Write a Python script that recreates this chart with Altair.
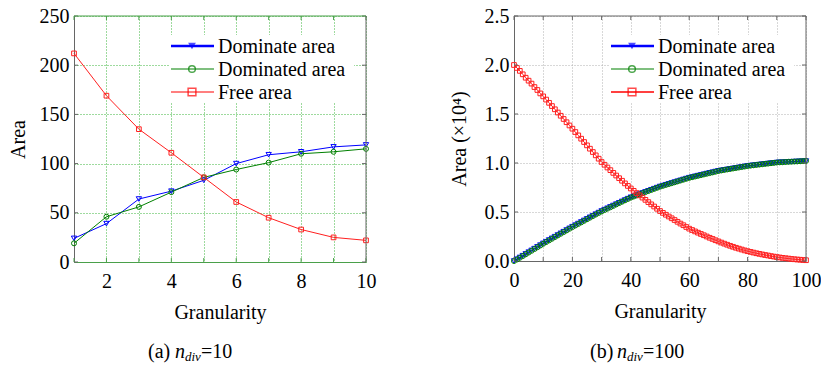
import altair as alt
import pandas as pd

# ---------------- data ----------------
series = ["Dominate area", "Dominated area", "Free area"]

gran_a = list(range(1, 11))
dominate_a = [24, 39, 64, 72, 83, 100, 109, 112, 117, 119]
dominated_a = [19, 46, 56, 71, 86, 94, 101, 110, 112, 115]
free_a = [212, 169, 135, 111, 86, 61, 45, 33, 25, 22]

gran_b = list(range(0, 101))
dominate_b = [
    0.000, 0.018, 0.036, 0.054, 0.072, 0.090, 0.108, 0.126, 0.144, 0.162, 0.180,
    0.197, 0.214, 0.231, 0.248, 0.265, 0.282, 0.299, 0.316, 0.333, 0.350,
    0.366, 0.382, 0.398, 0.414, 0.430, 0.446, 0.462, 0.478, 0.494, 0.510,
    0.524, 0.538, 0.552, 0.566, 0.580, 0.594, 0.608, 0.622, 0.636, 0.650,
    0.661, 0.672, 0.683, 0.694, 0.705, 0.716, 0.727, 0.738, 0.749, 0.760,
    0.769, 0.778, 0.787, 0.796, 0.805, 0.814, 0.823, 0.832, 0.841, 0.850,
    0.857, 0.864, 0.871, 0.878, 0.885, 0.892, 0.899, 0.906, 0.913, 0.920,
    0.925, 0.930, 0.935, 0.940, 0.945, 0.950, 0.955, 0.960, 0.965, 0.970,
    0.974, 0.977, 0.981, 0.984, 0.988, 0.991, 0.995, 0.998, 1.002, 1.005,
    1.007, 1.008, 1.010, 1.011, 1.013, 1.014, 1.016, 1.017, 1.019, 1.020,
]
dominated_b = [
    0.000, 0.015, 0.033, 0.050, 0.068, 0.086, 0.104, 0.122, 0.140, 0.158, 0.176,
    0.193, 0.210, 0.227, 0.244, 0.261, 0.278, 0.295, 0.312, 0.329, 0.346,
    0.362, 0.378, 0.394, 0.410, 0.426, 0.442, 0.458, 0.474, 0.490, 0.506,
    0.520, 0.534, 0.548, 0.562, 0.577, 0.591, 0.605, 0.619, 0.633, 0.647,
    0.658, 0.669, 0.681, 0.692, 0.703, 0.714, 0.725, 0.736, 0.747, 0.758,
    0.767, 0.776, 0.785, 0.794, 0.803, 0.812, 0.821, 0.830, 0.839, 0.848,
    0.855, 0.862, 0.869, 0.876, 0.883, 0.890, 0.897, 0.904, 0.911, 0.918,
    0.924, 0.929, 0.934, 0.939, 0.944, 0.949, 0.954, 0.959, 0.964, 0.969,
    0.973, 0.977, 0.980, 0.984, 0.987, 0.991, 0.994, 0.998, 1.001, 1.005,
    1.007, 1.008, 1.010, 1.012, 1.013, 1.015, 1.016, 1.018, 1.019, 1.021,
]
free_b = [
    2.000, 1.970, 1.940, 1.905, 1.870, 1.840, 1.810, 1.775, 1.745, 1.710, 1.680,
    1.647, 1.614, 1.581, 1.548, 1.515, 1.482, 1.449, 1.416, 1.383, 1.350,
    1.316, 1.282, 1.248, 1.214, 1.180, 1.146, 1.112, 1.078, 1.044, 1.010,
    0.982, 0.954, 0.927, 0.899, 0.872, 0.845, 0.819, 0.792, 0.766, 0.740,
    0.716, 0.693, 0.670, 0.647, 0.624, 0.601, 0.578, 0.556, 0.533, 0.510,
    0.491, 0.472, 0.454, 0.436, 0.418, 0.400, 0.382, 0.365, 0.347, 0.330,
    0.316, 0.302, 0.289, 0.276, 0.263, 0.250, 0.237, 0.225, 0.212, 0.200,
    0.188, 0.177, 0.166, 0.155, 0.145, 0.135, 0.126, 0.117, 0.108, 0.100,
    0.093, 0.086, 0.079, 0.073, 0.067, 0.061, 0.056, 0.050, 0.045, 0.040,
    0.036, 0.032, 0.028, 0.025, 0.021, 0.018, 0.015, 0.013, 0.010, 0.008,
]

xticks_a = list(range(1, 11))
yticks_a = [0, 50, 100, 150, 200, 250]
xticks_b = list(range(0, 101, 10))
yticks_b = [0.0, 0.5, 1.0, 1.5, 2.0, 2.5]

# ---------------- style ----------------
FONT = "Liberation Serif"
FS = 20
COLORS = ["#0000ff", "#008000", "#ff0000"]
SHAPES = ["triangle-down", "circle", "square"]
W_A, H_A = 292, 246
W_B, H_B = 292, 245


def long_df(g, a, b, c):
    return pd.DataFrame({
        "g": g * 3,
        "v": a + b + c,
        "s": [series[0]] * len(g) + [series[1]] * len(g) + [series[2]] * len(g),
        "o": [0] * len(g) + [1] * len(g) + [2] * len(g),
    })


df_a = long_df(gran_a, dominate_a, dominated_a, free_a)
df_b = long_df(gran_b, dominate_b, dominated_b, free_b)

color_scale = alt.Scale(domain=series, range=COLORS)
shape_scale = alt.Scale(domain=series, range=SHAPES)


def panel(df, W, H, xdom, ydom, xticks, yticks, xlabel_every, yfmt, ytitle,
          xcolor, ycolor, gridcolor, line_colors, line_widths, pt_sizes, pt_opacity,
          leg_widths, caption, ytitle_pad):
    xs = alt.Scale(domain=xdom, nice=False, zero=False)
    ys = alt.Scale(domain=ydom, nice=False)
    xaxis = alt.Axis(values=xticks, labelExpr=f"datum.value % {xlabel_every} == 0 ? datum.label : ''",
                     labelOverlap=False, grid=True, gridColor=gridcolor, gridDash=[1, 2], gridWidth=1,
                     tickSize=0, labelPadding=9, domainColor=xcolor, domainWidth=1,
                     title="Granularity", titlePadding=11, labelFlush=False)
    yaxis = alt.Axis(values=yticks, format=yfmt, labelOverlap=False, grid=True, gridColor=gridcolor,
                     gridDash=[1, 2], gridWidth=1, tickSize=0, labelPadding=5,
                     domainColor=ycolor, title=ytitle, titlePadding=ytitle_pad)

    base = alt.Chart(df)
    lines = base.mark_line().encode(
        x=alt.X("g:Q", scale=xs, axis=xaxis),
        y=alt.Y("v:Q", scale=ys, axis=yaxis),
        color=alt.Color("s:N", scale=alt.Scale(domain=series, range=line_colors), legend=None),
        strokeWidth=alt.StrokeWidth("s:N", scale=alt.Scale(domain=series, range=line_widths), legend=None),
        detail="s:N",
        order="o:Q",
    )
    points = base.mark_point(filled=False, strokeWidth=1).encode(
        x=alt.X("g:Q", scale=xs, axis=xaxis),
        y=alt.Y("v:Q", scale=ys, axis=yaxis),
        color=alt.Color("s:N", scale=color_scale, legend=None),
        shape=alt.Shape("s:N", scale=shape_scale, legend=None),
        size=alt.Size("s:N", scale=alt.Scale(domain=series, range=pt_sizes), legend=None),
        opacity=alt.Opacity("s:N", scale=alt.Scale(domain=series, range=pt_opacity), legend=None),
    )

    # inward ticks on all four sides
    xt = pd.DataFrame({"g": xticks})
    yt = pd.DataFrame({"v": yticks})
    tk = []
    tk.append(alt.Chart(xt).mark_rule(color=xcolor, strokeWidth=1).encode(
        x=alt.X("g:Q", scale=xs, axis=xaxis), y=alt.value(H), y2=alt.value(H - 4)))
    tk.append(alt.Chart(xt).mark_rule(color=xcolor, strokeWidth=1).encode(
        x=alt.X("g:Q", scale=xs, axis=xaxis), y=alt.value(0), y2=alt.value(4)))
    tk.append(alt.Chart(yt).mark_rule(color=ycolor, strokeWidth=1).encode(
        y=alt.Y("v:Q", scale=ys, axis=yaxis), x=alt.value(0), x2=alt.value(4)))
    tk.append(alt.Chart(yt).mark_rule(color=ycolor, strokeWidth=1).encode(
        y=alt.Y("v:Q", scale=ys, axis=yaxis), x=alt.value(W), x2=alt.value(W - 4)))
    one = pd.DataFrame({"a": [0]})
    frame = [
        alt.Chart(one).mark_rule(color=xcolor, strokeWidth=1).encode(
            x=alt.value(0), x2=alt.value(W), y=alt.value(0)),
        alt.Chart(one).mark_rule(color=ycolor, strokeWidth=1).encode(
            x=alt.value(W), y=alt.value(0), y2=alt.value(H)),
    ]

    # legend
    leg = [alt.Chart(one).mark_rect(fill="white").encode(
        x=alt.value(95), x2=alt.value(280), y=alt.value(19), y2=alt.value(86))]
    rows_y = [30, 53, 76]
    for i, s in enumerate(series):
        leg.append(alt.Chart(one).mark_rule(color=COLORS[i], strokeWidth=leg_widths[i]).encode(
            x=alt.value(97), x2=alt.value(140), y=alt.value(rows_y[i])))
        leg.append(alt.Chart(one).mark_point(shape=SHAPES[i], color=COLORS[i],
                                             filled=(i == 0), size=60 if i != 1 else 45,
                                             strokeWidth=1.5).encode(
            x=alt.value(118), y=alt.value(rows_y[i])))
        leg.append(alt.Chart(one).mark_text(text=s, align="left", baseline="middle",
                                            font=FONT, fontSize=FS, color="black").encode(
            x=alt.value(144), y=alt.value(rows_y[i] + 1)))

    # caption  "(x) n_div=N"
    cap = []
    cx, tag, num = caption
    cy = 342
    cap.append(alt.Chart(one).mark_text(text=tag, align="left", baseline="alphabetic",
                                        font=FONT, fontSize=FS).encode(
        x=alt.value(cx), y=alt.value(cy)))
    cap.append(alt.Chart(one).mark_text(text="n", align="left", baseline="alphabetic",
                                        font=FONT, fontSize=FS, fontStyle="italic").encode(
        x=alt.value(cx + 27), y=alt.value(cy)))
    cap.append(alt.Chart(one).mark_text(text="div", align="left", baseline="alphabetic",
                                        font=FONT, fontSize=13, fontStyle="italic").encode(
        x=alt.value(cx + 37), y=alt.value(cy + 3)))
    cap.append(alt.Chart(one).mark_text(text="=" + num, align="left", baseline="alphabetic",
                                        font=FONT, fontSize=FS).encode(
        x=alt.value(cx + 53), y=alt.value(cy)))

    return alt.layer(lines, points, *tk, *frame, *leg, *cap).properties(width=W, height=H)


left = panel(df_a, W_A, H_A, [1, 10], [0, 250], xticks_a, yticks_a, 2, "d", "Area",
             "#4aa04a", "#666666", "#3cb43c",
             ["#0000ff", "#008000", "#ff2020"],
             [1, 1, 1], [28, 22, 30], [1, 1, 1], [2.5, 1.2, 1.2],
             (74, "(a) ", "10"), 11)
right = panel(df_b, W_B, H_B, [0, 100], [0, 2.5], xticks_b, yticks_b, 20, ".1f", "Area (×10⁴)",
              "#666666", "#666666", "#b0b0b0",
              ["#0000ff", "#008000", "#ff5050"],
              [2, 1, 1], [10, 14, 20], [0.9, 0.6, 0.45], [2.5, 1.2, 1.5],
              (76, "(b) ", "100"), 15)

chart = alt.hconcat(left, right, spacing=148, bounds="flush").properties(
    padding={"left": 0, "top": -2, "right": 0, "bottom": 0},
).configure(background="white").configure_view(stroke=None).configure_axis(
    labelFont=FONT, labelFontSize=FS, labelColor="black",
    titleFont=FONT, titleFontSize=FS, titleFontWeight="normal", titleColor="black",
)

chart.save("out.html", embed_options={"renderer": "svg", "actions": False})
